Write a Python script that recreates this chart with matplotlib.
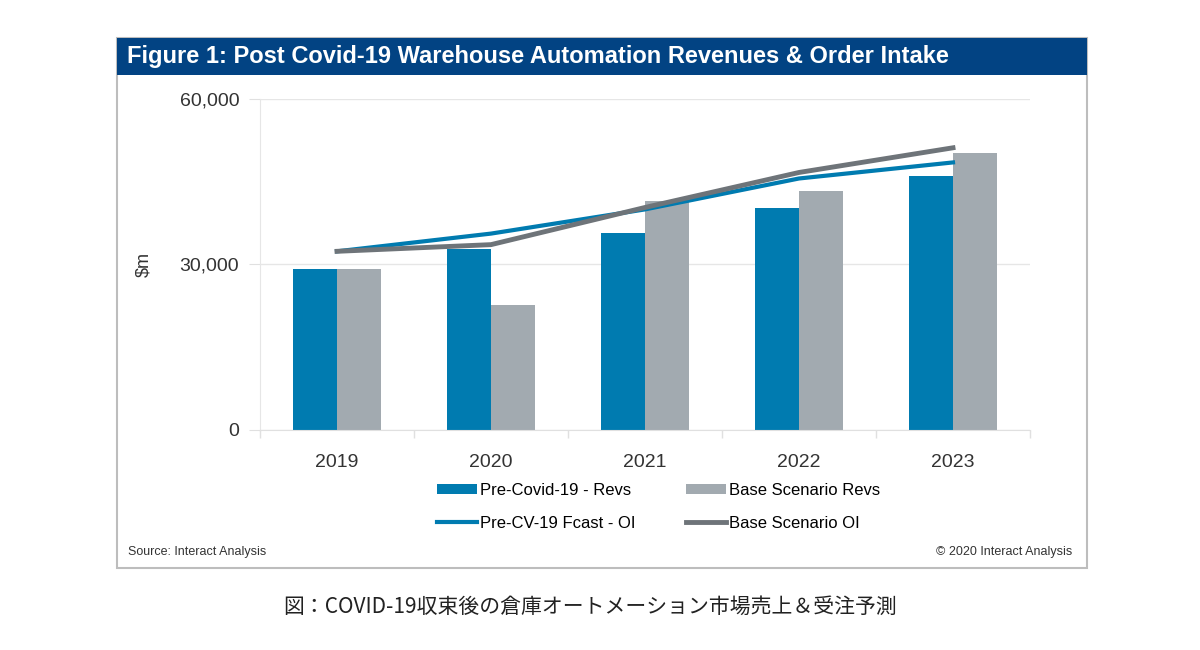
import matplotlib
matplotlib.use("Agg")
import matplotlib.pyplot as plt
import matplotlib.patches as patches
import numpy as np

years = ["2019", "2020", "2021", "2022", "2023"]
pre_revs = [29150, 32720, 35680, 40290, 45970]
base_revs = [29150, 22610, 41430, 43370, 50090]
pre_oi = [32360, 35570, 39950, 45550, 48460]
base_oi = [32360, 33570, 40300, 46640, 51110]

blue = "#007bb0"
grey_bar = "#a2aab0"
grey_line = "#6e7479"
navy = "#024383"

plt.rcParams["font.family"] = ["Liberation Sans", "DejaVu Sans"]

W, H = 1200, 650
fig = plt.figure(figsize=(W / 100, H / 100), dpi=100)

def fx(px):
    return px / W

def fy(py):
    return 1 - py / H

# outer frame and title bar
fig.patches.append(patches.Rectangle((fx(117), fy(568)), fx(1087) - fx(117), fy(38) - fy(568),
                                     transform=fig.transFigure, facecolor="white",
                                     edgecolor="#bdbdbd", linewidth=1.5, zorder=-2))
fig.patches.append(patches.Rectangle((fx(117), fy(75)), fx(1087) - fx(117), fy(38) - fy(75),
                                     transform=fig.transFigure, facecolor=navy,
                                     edgecolor="none", zorder=-1))
fig.text(fx(127), fy(57), "Figure 1: Post Covid-19 Warehouse Automation Revenues & Order Intake",
         color="white", fontsize=17, fontweight="bold", va="center", ha="left")

ax = fig.add_axes([fx(260), fy(430), fx(1030) - fx(260), fy(98.7) - fy(430)])
ax.set_zorder(5)
x = np.arange(len(years))
w = 0.286
ax.bar(x - w / 2, pre_revs, width=w, color=blue, label="Pre-Covid-19 - Revs", zorder=2)
ax.bar(x + w / 2, base_revs, width=w, color=grey_bar, label="Base Scenario Revs", zorder=2)
ax.plot(x, pre_oi, color=blue, linewidth=3, label="Pre-CV-19 Fcast - OI", zorder=3)
ax.plot(x, base_oi, color=grey_line, linewidth=3.5, label="Base Scenario OI", zorder=3)

ax.set_xlim(-0.5, 4.5)
ax.set_ylim(0, 60000)
ax.set_yticks([0, 30000, 60000])
ax.set_yticklabels(["0", "30,000", "60,000"])
ax.set_xticks(x)
ax.set_xticklabels(years)
ax.set_xticks(np.arange(-0.5, 5, 1), minor=True)
ax.tick_params(axis="x", which="major", length=0, labelsize=14, pad=17, colors="#333333")
ax.tick_params(axis="x", which="minor", length=6, color="#e0e0e0", width=1)
ax.tick_params(axis="y", length=8, color="#e0e0e0", labelsize=14, pad=7, labelcolor="#333333")
ax.grid(axis="y", color="#e6e6e6", linewidth=1, zorder=0)
for s in ["top", "right"]:
    ax.spines[s].set_visible(False)
ax.spines["left"].set_color("#e6e6e6")
ax.spines["bottom"].set_color("#e0e0e0")
ax.set_ylabel("$m", fontsize=13, color="#333333")
ax.yaxis.set_label_coords(-0.14, 0.5)
ax.set_facecolor("none")

h, l = ax.get_legend_handles_labels()
order = [2, 0, 3, 1]
fig.legend([h[i] for i in order], [l[i] for i in order], ncol=2,
           loc="upper left", bbox_to_anchor=(fx(430), fy(476)), frameon=False,
           fontsize=12, handlelength=2.4, handletextpad=0.2, columnspacing=3.0,
           labelspacing=1.1, borderaxespad=0, handleheight=0.6)

fig.text(fx(128), fy(552), "Source: Interact Analysis", fontsize=9, color="#333333", va="center")
fig.text(fx(1072), fy(552), "© 2020 Interact Analysis", fontsize=9, color="#333333",
         va="center", ha="right")

fig.text(fx(283), fy(607), "図：COVID-19収束後の倉庫オートメーション市場売上＆受注予測",
         fontsize=15, color="#222222", va="center", ha="left",
         family=["Noto Sans CJK JP", "DejaVu Sans"])

fig.savefig("out.png", dpi=100)
